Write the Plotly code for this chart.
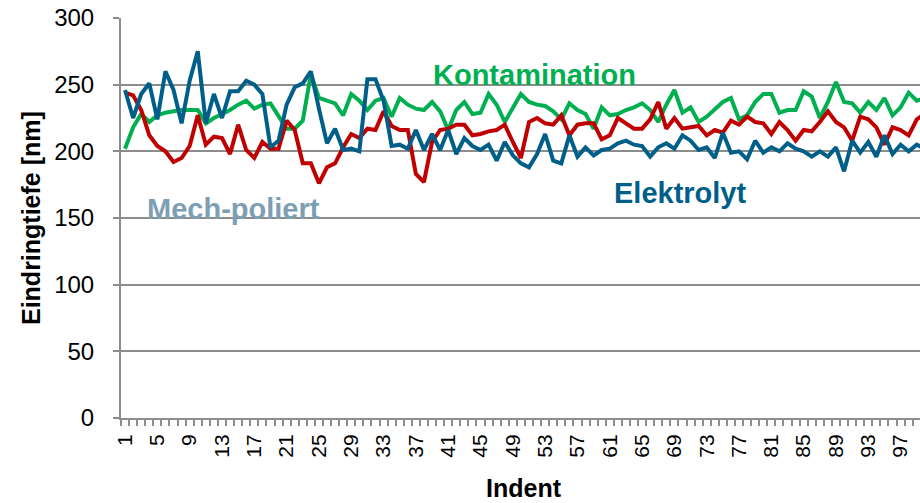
import plotly.graph_objects as go

indent = list(range(1, 101))

mech_poliert = [244, 242, 231, 212, 204, 200, 192, 195, 204, 227,
                205, 211, 210, 198, 220, 201, 195, 207, 202, 202,
                223, 216, 191, 191, 176, 188, 191, 203, 213, 210,
                217, 216, 230, 219, 216, 216, 183, 177, 207, 216,
                217, 220, 220, 212, 213, 215, 216, 220, 207, 195,
                222, 225, 221, 220, 227, 212, 220, 221, 221, 209,
                212, 225, 221, 217, 217, 224, 237, 217, 225, 217,
                218, 219, 212, 216, 214, 223, 220, 226, 222, 221,
                213, 222, 216, 208, 216, 215, 222, 230, 222, 218,
                208, 226, 224, 218, 205, 218, 216, 212, 224, 228]

kontamination = [202, 218, 228, 222, 227, 229, 230, 231, 231, 231,
                 221, 225, 228, 231, 235, 238, 232, 235, 236, 227,
                 217, 217, 223, 258, 240, 238, 236, 227, 243, 238,
                 231, 238, 240, 226, 240, 235, 232, 231, 237, 230,
                 216, 231, 237, 228, 229, 243, 235, 222, 233, 243,
                 237, 235, 234, 230, 224, 236, 231, 228, 217, 233,
                 227, 228, 231, 233, 236, 231, 222, 235, 246, 229,
                 233, 222, 226, 232, 237, 240, 224, 227, 237, 243,
                 243, 229, 231, 231, 245, 241, 225, 237, 252, 237,
                 236, 229, 237, 231, 240, 227, 233, 244, 238, 240]

elektrolyt = [246, 225, 243, 251, 224, 260, 246, 221, 253, 275,
              221, 243, 225, 245, 245, 253, 250, 243, 203, 208,
              235, 248, 251, 260, 232, 206, 217, 201, 202, 200,
              254, 254, 238, 204, 205, 202, 216, 201, 213, 201,
              216, 198, 210, 204, 201, 205, 193, 207, 197, 191,
              188, 198, 213, 193, 191, 212, 196, 203, 197, 201,
              202, 206, 208, 205, 204, 196, 203, 206, 202, 212,
              208, 201, 203, 195, 214, 199, 200, 194, 208, 199,
              203, 200, 206, 202, 200, 196, 200, 196, 203, 185,
              208, 199, 207, 196, 212, 198, 205, 200, 205, 202]

x_tick_vals = list(range(1, 101, 4))
x_tick_text = [str(v) for v in x_tick_vals]
y_tick_vals = [0, 50, 100, 150, 200, 250, 300]

GREEN = "#00B050"
RED = "#C00000"
BLUE = "#005F88"
LABEL_GREY_BLUE = "#7D9EB3"
GRID = "#8C8C8C"
FONT = "Liberation Sans, Arial, sans-serif"

fig = go.Figure()
fig.add_trace(go.Scatter(x=indent, y=kontamination, mode="lines",
                         line=dict(color=GREEN, width=4), name="Kontamination"))
fig.add_trace(go.Scatter(x=indent, y=mech_poliert, mode="lines",
                         line=dict(color=RED, width=4), name="Mech-poliert"))
fig.add_trace(go.Scatter(x=indent, y=elektrolyt, mode="lines",
                         line=dict(color=BLUE, width=4), name="Elektrolyt"))

fig.update_layout(
    width=920, height=503,
    margin=dict(l=121, r=0, t=18, b=85),
    paper_bgcolor="white", plot_bgcolor="white",
    showlegend=False,
    font=dict(family=FONT, color="black", size=20),
)

fig.update_xaxes(
    range=[0.5, 99.4], automargin=False,
    tickmode="array", tickvals=x_tick_vals, ticktext=x_tick_text,
    tickangle=-90, tickfont=dict(size=21, family=FONT),
    ticks="outside", ticklen=6, tickcolor="rgba(0,0,0,0)",
    minor=dict(tick0=0.5, dtick=1, ticks="outside", ticklen=6,
               tickcolor=GRID, tickwidth=1.5, showgrid=False),
    showgrid=False, zeroline=False,
    showline=True, linecolor=GRID, linewidth=2,
)

fig.update_yaxes(
    range=[0, 300], automargin=False,
    tickmode="array", tickvals=y_tick_vals,
    tickfont=dict(size=24, family=FONT),
    ticks="outside", ticklen=6, tickcolor=GRID, tickwidth=1.5,
    ticklabelstandoff=14,
    showgrid=True, gridcolor=GRID, gridwidth=2,
    zeroline=False,
    showline=True, linecolor=GRID, linewidth=2,
)

# axis titles
fig.add_annotation(text="<b>Eindringtiefe [nm]</b>", xref="paper", yref="paper",
                   x=-0.1126, y=0.5, xanchor="center", yanchor="middle",
                   textangle=-90, showarrow=False,
                   font=dict(size=25, family=FONT, color="black"))
fig.add_annotation(text="<b>Indent</b>", xref="paper", yref="paper",
                   x=0.505, y=-0.174, xanchor="center", yanchor="middle",
                   showarrow=False, font=dict(size=25, family=FONT, color="black"))

# series labels
fig.add_annotation(text="<b>Kontamination</b>", x=51.7, y=257.5, xref="x", yref="y",
                   showarrow=False, font=dict(size=29, family=FONT, color=GREEN))
fig.add_annotation(text="<b>Elektrolyt</b>", x=69.7, y=168.5, xref="x", yref="y",
                   showarrow=False, font=dict(size=29, family=FONT, color=BLUE))
fig.add_annotation(text="<b>Mech-poliert</b>", x=14.4, y=156.5, xref="x", yref="y",
                   showarrow=False, font=dict(size=29, family=FONT, color=LABEL_GREY_BLUE))

fig.write_html("out.html",
               config={"displayModeBar": False},
               post_script="document.body.style.margin='0';document.body.style.overflow='hidden';")
